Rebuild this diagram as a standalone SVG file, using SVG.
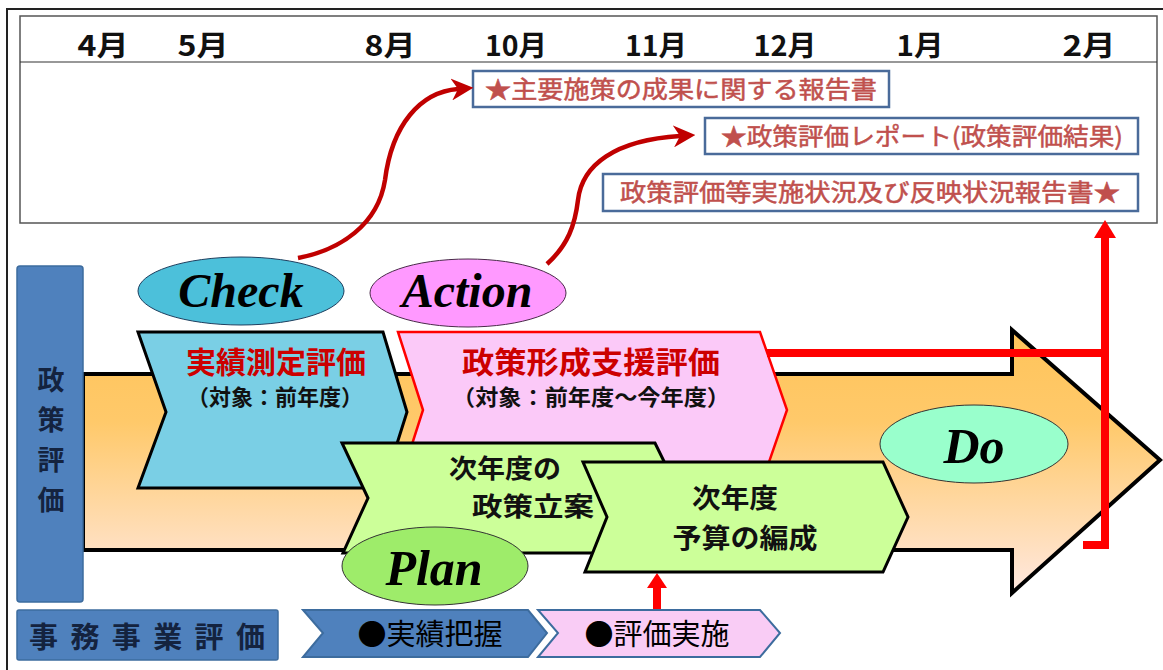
<svg xmlns="http://www.w3.org/2000/svg" width="1163" height="670" viewBox="0 0 1163 670">
<defs>
<linearGradient id="og" x1="0" y1="330" x2="0" y2="593" gradientUnits="userSpaceOnUse">
<stop offset="0" stop-color="#FFC45A"/>
<stop offset="0.35" stop-color="#FFC96A"/>
<stop offset="1" stop-color="#FFE8E0"/>
</linearGradient>
<marker id="ah" viewBox="0 0 20 20" markerWidth="22" markerHeight="22" refX="6" refY="10" orient="auto" markerUnits="userSpaceOnUse">
<path d="M0,0 L20,10 L0,20 L6,10 z" fill="#C00000"/>
</marker>
<style>
.jp{font-family:"Noto Sans CJK JP","Noto Sans CJK SC",sans-serif;}
.mon{font-size:28px;font-weight:bold;fill:#111;text-anchor:middle;}
.rep{font-size:24px;fill:#C0504D;stroke:#C0504D;stroke-width:0.5;text-anchor:middle;}
.repbox{fill:#fff;stroke:#4A6B9A;stroke-width:2.5;}
.en{font-family:"Liberation Serif","Times New Roman",serif;font-weight:bold;font-style:italic;fill:#000;text-anchor:middle;}
.chev{stroke:#000;stroke-width:3;stroke-linejoin:miter;}
.ttl{font-weight:bold;text-anchor:middle;}
.curve{fill:none;stroke:#C00000;stroke-width:4.5;}
.red{stroke:#FF0000;stroke-width:8;fill:none;}
</style>
</defs>
<rect x="7" y="9" width="1170" height="670" fill="#fff" stroke="#222" stroke-width="2"/>
<g id="timeline">
<rect x="20" y="16" width="1137" height="207" fill="#fff" stroke="#555" stroke-width="1.5"/>
<line x1="20" y1="62" x2="1157" y2="62" stroke="#333" stroke-width="1.2"/>
<g class="jp mon">
<text x="103" y="56" textLength="51" lengthAdjust="spacingAndGlyphs">4月</text>
<text x="203" y="56" textLength="51" lengthAdjust="spacingAndGlyphs">5月</text>
<text x="390" y="56" textLength="51" lengthAdjust="spacingAndGlyphs">8月</text>
<text x="516" y="56" textLength="62" lengthAdjust="spacingAndGlyphs">10月</text>
<text x="656" y="56" textLength="62" lengthAdjust="spacingAndGlyphs">11月</text>
<text x="785" y="56" textLength="63" lengthAdjust="spacingAndGlyphs">12月</text>
<text x="920" y="56" textLength="47" lengthAdjust="spacingAndGlyphs">1月</text>
<text x="1089" y="56" textLength="53" lengthAdjust="spacingAndGlyphs">2月</text>
</g>
</g>
<g id="report1"><rect class="repbox" x="473" y="71" width="416" height="36"/><text class="jp rep" x="681" y="98" textLength="392" lengthAdjust="spacingAndGlyphs">★主要施策の成果に関する報告書</text></g>
<g id="report2"><rect class="repbox" x="705" y="118" width="433" height="36"/><text class="jp rep" x="922" y="145" textLength="402" lengthAdjust="spacingAndGlyphs">★政策評価レポート(政策評価結果)</text></g>
<g id="report3"><rect class="repbox" x="603" y="174" width="535" height="37"/><text class="jp rep" x="870" y="201" textLength="500" lengthAdjust="spacingAndGlyphs">政策評価等実施状況及び反映状況報告書★</text></g>

<g id="main-arrow">
<path d="M83,374 L1012,374 L1012,330 L1160,460 L1012,593 L1012,550 L83,550 Z" fill="url(#og)" stroke="#000" stroke-width="4" stroke-linejoin="miter"/>
</g>
<g id="policy-eval-bar">
<rect x="17" y="266" width="66" height="336" rx="3" fill="#4F81BD" stroke="#3D6C9E" stroke-width="1.5"/>
<g class="jp" font-size="27" font-weight="bold" fill="#14233F" text-anchor="middle">
<text x="51" y="390">政</text>
<text x="51" y="430">策</text>
<text x="51" y="470">評</text>
<text x="51" y="510">価</text>
</g>
</g>
<g id="do">
<ellipse cx="974" cy="444" rx="94" ry="39" fill="#99FFCC" stroke="#333" stroke-width="1"/>
<text class="en" x="974" y="463" font-size="50">Do</text>
</g>
<g id="jisseki">
<path class="chev" d="M138,332 L383,332 L407,412 L383,488 L138,488 L166,412 Z" fill="#7ACFE5"/>
<text class="jp ttl" x="276" y="373" font-size="30" fill="#CC0000">実績測定評価</text>
<text class="jp ttl" x="275" y="405" font-size="22" fill="#111">（対象：前年度）</text>
</g>
<g id="seisaku">
<path d="M398,332 L760,332 L787,410 L760,488 L398,488 L423,410 Z" fill="#FBC9F8" stroke="#FF0000" stroke-width="2.5"/>
<text class="jp ttl" x="591" y="373" font-size="30" fill="#CC0000" textLength="258" lengthAdjust="spacingAndGlyphs">政策形成支援評価</text>
<text class="jp ttl" x="591" y="405" font-size="22" fill="#111" textLength="278" lengthAdjust="spacingAndGlyphs">（対象：前年度～今年度）</text>
</g>
<g id="connectors">
<path class="curve" d="M298,258 C340,250 378,225 385,180 C392,125 420,92 458,89" marker-end="url(#ah)"/>
<path class="curve" d="M547,264 C568,245 575,225 578,200 C582,165 615,140 680,136" marker-end="url(#ah)"/>
<polyline class="red" points="767,353 1105,353"/>
<polyline class="red" points="1083,545 1105,545 1105,236"/>
<polygon points="1094,238 1105,220 1116,238" fill="#FF0000"/>
<line class="red" x1="657" y1="610" x2="657" y2="586"/>
<polygon points="647,588 657,573 667,588" fill="#FF0000"/>
</g>
<g id="check">
<ellipse cx="241" cy="291" rx="103" ry="34" fill="#4CC0DA" stroke="#1F3F5F" stroke-width="1"/>
<text class="en" x="241" y="307" font-size="48">Check</text>
</g>
<g id="action">
<ellipse cx="468" cy="293" rx="98" ry="34" fill="#FF99FF" stroke="#4A2A4A" stroke-width="1"/>
<text class="en" x="467" y="307" font-size="48">Action</text>
</g>
<g id="plan-draft">
<path class="chev" d="M342,443 L655,443 L682,498 L655,553 L343,553 L368,498 Z" fill="#CCFF99"/>
<text class="jp ttl" x="505" y="478" font-size="26" fill="#111" textLength="112" lengthAdjust="spacingAndGlyphs">次年度の</text>
<text class="jp ttl" x="533" y="516" font-size="26" fill="#111" textLength="122" lengthAdjust="spacingAndGlyphs">政策立案</text>
</g>
<g id="budget">
<path class="chev" d="M583,462 L883,462 L908,517 L883,572 L585,572 L607,517 Z" fill="#CCFF99"/>
<text class="jp ttl" x="735" y="508" font-size="27" fill="#111" textLength="86" lengthAdjust="spacingAndGlyphs">次年度</text>
<text class="jp ttl" x="745" y="548" font-size="27" fill="#111" textLength="145" lengthAdjust="spacingAndGlyphs">予算の編成</text>
</g>
<g id="plan">
<ellipse cx="435" cy="566" rx="93" ry="39" fill="#9EEC6A" stroke="#333" stroke-width="1"/>
<text class="en" x="434" y="585" font-size="50">Plan</text>
</g>
<g id="jimu">
<rect x="17" y="610" width="261" height="50" rx="2" fill="#4F81BD" stroke="#3D6C9E" stroke-width="1.5"/>
<text class="jp" x="147" y="648" font-size="29" font-weight="bold" fill="#14233F" text-anchor="middle" textLength="236" lengthAdjust="spacing">事務事業評価</text>
</g>
<g id="haaku">
<path d="M303,610 L528,610 L547,633 L528,657 L303,657 L323,633 Z" fill="#4F81BD" stroke="#3D6C9E" stroke-width="2"/>
<text class="jp" x="430" y="645" font-size="29" fill="#000" text-anchor="middle">●実績把握</text>
</g>
<g id="jisshi">
<path d="M538,610 L760,610 L780,633 L760,657 L538,657 L558,633 Z" fill="#F9CCF5" stroke="#3D6C9E" stroke-width="2"/>
<text class="jp" x="657" y="645" font-size="29" fill="#000" text-anchor="middle">●評価実施</text>
</g>
</svg>
